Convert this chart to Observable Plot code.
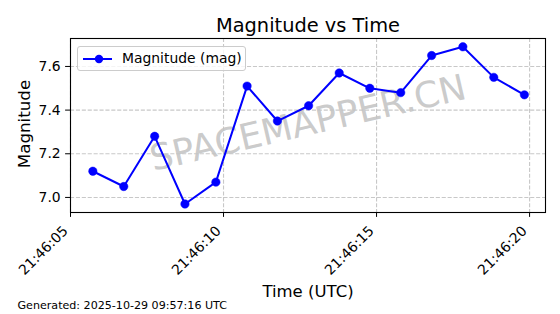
<!DOCTYPE html>
<html><head><meta charset="utf-8">
<script src="https://cdn.jsdelivr.net/npm/d3@7"></script>
<script src="https://cdn.jsdelivr.net/npm/@observablehq/plot@0.6"></script>
<style>
body{margin:0;background:#fff;font-family:"DejaVu Sans",sans-serif;}
#wrap{position:relative;width:560px;height:314px;overflow:hidden;}
#legend{position:absolute;left:77px;top:46px;width:169px;height:25px;border:1px solid #cccccc;border-radius:3px;background:rgba(255,255,255,0.8);box-sizing:border-box;}
#legend svg{position:absolute;left:4px;top:3px;}
#legend span{position:absolute;left:44px;top:3px;font-size:13.9px;color:#000;white-space:nowrap;line-height:17px;font-family:"DejaVu Sans",sans-serif;}
</style></head><body><div id="wrap"></div>
<script>
const times = ["21:46:05.73","21:46:06.74","21:46:07.75","21:46:08.74","21:46:09.75","21:46:10.77","21:46:11.76","21:46:12.78","21:46:13.78","21:46:14.78","21:46:15.79","21:46:16.80","21:46:17.82","21:46:18.83","21:46:19.83"];
const magnitudes = [7.12,7.05,7.28,6.97,7.07,7.51,7.35,7.42,7.57,7.50,7.48,7.65,7.69,7.55,7.47];
const xTickLabels = ["21:46:05","21:46:10","21:46:15","21:46:20"];
const yTicks = [7.0,7.2,7.4,7.6];
const title = "Magnitude vs Time";
const xLabel = "Time (UTC)";
const yLabel = "Magnitude";
const seriesName = "Magnitude (mag)";
const watermark = "SPACEMAPPER.CN";
const footer = "Generated: 2025-10-29 09:57:16 UTC";
const day = "2025-10-29T";

const toDate = s => new Date(day + s + "Z");
const data = times.map((t,i) => ({time: toDate(t), mag: magnitudes[i]}));
const xTicks = xTickLabels.map(toDate);
const fmt = d3.utcFormat("%H:%M:%S");
const gridStyle = {stroke: "#b0b0b0", strokeOpacity: 0.7, strokeDasharray: "4.1,1.8", strokeWidth: 1.1};

const chart = Plot.plot({
  width: 560, height: 314,
  marginLeft: 70, marginRight: 15, marginTop: 38, marginBottom: 102,
  style: {fontFamily: "DejaVu Sans", fontSize: "10px", color: "black", background: "white", overflow: "visible"},
  x: {type: "utc", domain: [toDate("21:46:05"), toDate("21:46:20.52")]},
  y: {domain: [6.931, 7.728]},
  marks: [
    Plot.gridX(xTicks, gridStyle),
    Plot.gridY(yTicks, gridStyle),
    Plot.text([watermark], {frameAnchor: "middle", dy: -2, rotate: -13, fontSize: 36, fill: "#c4c4c4", fillOpacity: 0.9}),
    Plot.line(data, {x: "time", y: "mag", stroke: "#0000ff", strokeWidth: 2}),
    Plot.dot(data, {x: "time", y: "mag", r: 4.2, fill: "#0000ff", stroke: "#0000ff", strokeWidth: 0.5}),
    Plot.frame({stroke: "black", strokeWidth: 1.1}),
    Plot.axisX(xTicks, {tickSize: 4.9, tickFormat: () => "", label: null}),
    Plot.text(xTicks, {x: d => d, text: d => fmt(d), frameAnchor: "bottom", textAnchor: "end", lineAnchor: "middle", rotate: -45, dx: -5, dy: 16, fontSize: 13.9}),
    Plot.axisY(yTicks, {tickFormat: ".1f", tickSize: 4.9, fontSize: 13.9, label: null, tickPadding: 4.9}),
    Plot.text([title], {frameAnchor: "top", lineAnchor: "middle", dy: -12.5, fontSize: 19.4}),
    Plot.text([xLabel], {frameAnchor: "bottom", lineAnchor: "middle", dy: 79.4, fontSize: 16.5}),
    Plot.text([yLabel], {frameAnchor: "left", lineAnchor: "middle", dx: -46, dy: -1.5, rotate: -90, textAnchor: "middle", fontSize: 16.7}),
    Plot.text([footer], {frameAnchor: "bottom-left", lineAnchor: "middle", dx: -53, dy: 93.4, textAnchor: "start", fontSize: 11.1})
  ]
});
const wrap = document.getElementById("wrap");
wrap.appendChild(chart);
const lg = document.createElement("div");
lg.id = "legend";
lg.innerHTML = '<svg width="34" height="18"><line x1="1" y1="9" x2="30" y2="9" stroke="#0000ff" stroke-width="2"/><circle cx="17" cy="9" r="4.2" fill="#0000ff"/></svg><span></span>';
lg.querySelector("span").textContent = seriesName;
wrap.appendChild(lg);
</script></body></html>
